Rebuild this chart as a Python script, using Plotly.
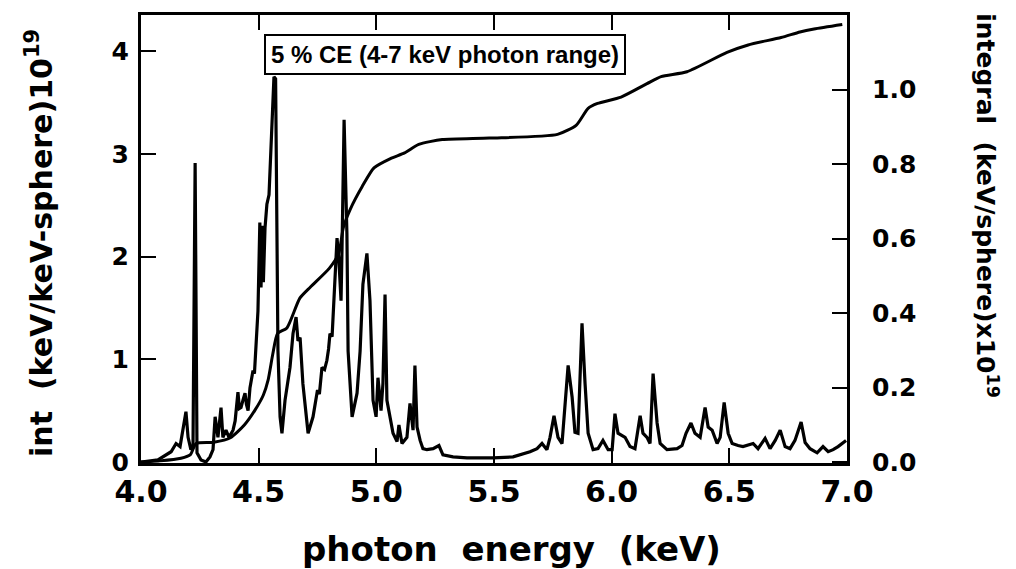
import plotly.graph_objects as go

# spectrum: photon energy (keV) vs intensity (keV/keV-sphere) x 1e19
energy = [4.000, 4.072, 4.128, 4.149, 4.166, 4.191, 4.200, 4.212, 4.221, 4.230, 4.238, 4.255, 4.276,
          4.293, 4.306, 4.315, 4.327, 4.340, 4.348, 4.361, 4.374, 4.391, 4.400, 4.412, 4.418, 4.425,
          4.433, 4.442, 4.448, 4.455, 4.463, 4.476, 4.482, 4.489, 4.497, 4.505, 4.510, 4.516, 4.520,
          4.527, 4.535, 4.544, 4.557, 4.565, 4.572, 4.578, 4.582, 4.591, 4.599, 4.612, 4.633, 4.646,
          4.659, 4.667, 4.676, 4.688, 4.705, 4.710, 4.731, 4.750, 4.758, 4.769, 4.780, 4.790, 4.797,
          4.803, 4.812, 4.820, 4.833, 4.841, 4.850, 4.854, 4.863, 4.875, 4.880, 4.897, 4.918, 4.931,
          4.943, 4.960, 4.973, 4.986, 4.999, 5.007, 5.020, 5.028, 5.037, 5.045, 5.058, 5.071, 5.088,
          5.096, 5.109, 5.130, 5.143, 5.156, 5.164, 5.173, 5.186, 5.198, 5.215, 5.241, 5.266, 5.283,
          5.326, 5.385, 5.441, 5.496, 5.581, 5.623, 5.653, 5.683, 5.704, 5.725, 5.738, 5.755, 5.772,
          5.789, 5.802, 5.815, 5.832, 5.844, 5.857, 5.874, 5.887, 5.900, 5.921, 5.942, 5.963, 5.985,
          6.002, 6.014, 6.027, 6.057, 6.078, 6.099, 6.121, 6.133, 6.150, 6.163, 6.176, 6.193, 6.206,
          6.235, 6.278, 6.299, 6.316, 6.337, 6.354, 6.376, 6.397, 6.410, 6.427, 6.448, 6.461, 6.478,
          6.495, 6.512, 6.537, 6.558, 6.601, 6.622, 6.652, 6.673, 6.695, 6.716, 6.737, 6.758, 6.779,
          6.805, 6.822, 6.843, 6.873, 6.898, 6.920, 6.941, 6.962, 6.983, 6.996]
intensity = [0.00, 0.02, 0.10, 0.18, 0.15, 0.49, 0.24, 0.12, 0.15, 2.91, 0.09, 0.02, 0.00,
             0.05, 0.12, 0.44, 0.24, 0.53, 0.24, 0.31, 0.24, 0.31, 0.40, 0.68, 0.52, 0.53,
             0.60, 0.67, 0.56, 0.50, 0.72, 0.89, 0.86, 1.12, 1.47, 2.33, 1.70, 2.30, 1.75,
             2.28, 2.51, 2.60, 3.44, 3.75, 3.73, 2.22, 1.08, 0.44, 0.28, 0.60, 0.92, 1.25,
             1.41, 1.18, 1.21, 0.76, 0.34, 0.28, 0.44, 0.70, 0.66, 0.92, 0.90, 0.99, 1.10,
             1.25, 1.22, 1.57, 2.18, 1.96, 1.57, 2.05, 3.33, 2.22, 1.08, 0.44, 0.67, 1.08,
             1.73, 2.03, 1.57, 0.60, 0.44, 0.82, 0.50, 0.76, 1.63, 0.60, 0.44, 0.28, 0.20,
             0.36, 0.18, 0.24, 0.57, 0.31, 0.94, 0.34, 0.21, 0.13, 0.12, 0.13, 0.16, 0.07,
             0.05, 0.04, 0.04, 0.04, 0.05, 0.08, 0.10, 0.13, 0.18, 0.12, 0.24, 0.45, 0.24,
             0.18, 0.60, 0.94, 0.63, 0.29, 0.28, 1.35, 0.76, 0.28, 0.12, 0.13, 0.21, 0.12,
             0.12, 0.47, 0.28, 0.24, 0.15, 0.13, 0.45, 0.28, 0.24, 0.18, 0.86, 0.38, 0.18,
             0.12, 0.13, 0.16, 0.28, 0.38, 0.28, 0.24, 0.53, 0.34, 0.31, 0.18, 0.24, 0.58,
             0.28, 0.18, 0.16, 0.15, 0.18, 0.13, 0.23, 0.13, 0.21, 0.31, 0.15, 0.13, 0.21,
             0.39, 0.19, 0.13, 0.09, 0.15, 0.10, 0.12, 0.15, 0.19, 0.21]

# cumulative integral (keV/sphere) x 1e19
int_energy = [4.00, 4.08, 4.17, 4.21, 4.234, 4.31, 4.38, 4.44, 4.485, 4.52, 4.54, 4.56, 4.58, 4.62,
              4.675, 4.72, 4.80, 4.84, 4.86, 4.89, 4.94, 4.99, 5.06, 5.12, 5.18, 5.28, 5.48, 5.77,
              5.85, 5.90, 5.94, 6.04, 6.15, 6.21, 6.32, 6.49, 6.58, 6.72, 6.80, 6.86, 6.98]
integral = [0.0, 0.003, 0.01, 0.02, 0.05, 0.053, 0.065, 0.10, 0.14, 0.18, 0.22, 0.29, 0.345, 0.36,
            0.44, 0.47, 0.52, 0.56, 0.63, 0.68, 0.74, 0.79, 0.815, 0.83, 0.853, 0.866, 0.87, 0.88,
            0.905, 0.95, 0.963, 0.98, 1.016, 1.035, 1.048, 1.10, 1.12, 1.14, 1.155, 1.163, 1.175]

x_ticks = [4.0, 4.5, 5.0, 5.5, 6.0, 6.5, 7.0]
x_ticktext = ["4.0", "4.5", "5.0", "5.5", "6.0", "6.5", "7.0"]
y_ticks = [0, 1, 2, 3, 4]
y2_ticks = [0.0, 0.2, 0.4, 0.6, 0.8, 1.0]
y2_ticktext = ["0.0", "0.2", "0.4", "0.6", "0.8", "1.0"]

FONT = "DejaVu Sans"

W, H = 1016, 569
L, R, T, B = 141, 169, 13, 106
pw, ph = W - L - R, H - T - B


def px_x(p):
    return (p - L) / pw


def px_y(p):
    return (H - B - p) / ph


fig = go.Figure()
fig.add_trace(go.Scatter(x=energy, y=intensity, mode="lines",
                         line=dict(color="black", width=3.2), showlegend=False))
fig.add_trace(go.Scatter(x=int_energy, y=integral, mode="lines", yaxis="y2",
                         line=dict(color="black", width=3, shape="spline", smoothing=0.6),
                         showlegend=False))

fig.update_layout(
    width=W, height=H,
    margin=dict(l=L, r=R, t=T, b=B),
    paper_bgcolor="white", plot_bgcolor="white",
    font=dict(family=FONT, color="black"),
    xaxis=dict(range=[4.0, 7.0], tickvals=x_ticks, ticktext=x_ticktext,
               ticks="inside", ticklen=15, tickwidth=2, tickcolor="black",
               showline=True, linewidth=3, linecolor="black", mirror="ticks",
               showgrid=False, zeroline=False,
               tickfont=dict(family=FONT, size=30, weight="bold"),
               ticklabelstandoff=0),
    yaxis=dict(range=[-0.0097, 4.351], tickvals=y_ticks,
               ticks="inside", ticklen=15, tickwidth=2, tickcolor="black",
               showline=True, linewidth=3, linecolor="black", mirror=True,
               showgrid=False, zeroline=False,
               tickfont=dict(family=FONT, size=25, weight="bold"),
               ticklabelstandoff=4),
    yaxis2=dict(range=[-0.0027, 1.2005], tickvals=y2_ticks, ticktext=y2_ticktext,
                overlaying="y", side="right",
                ticks="inside", ticklen=15, tickwidth=2, tickcolor="black",
                showline=False, showgrid=False, zeroline=False,
                tickfont=dict(family=FONT, size=25, weight="bold"),
                ticklabelstandoff=24),
    annotations=[
        dict(text="5 % CE (4-7 keV photon range)", x=5.29, y=px_y(52.5), xref="x", yref="paper",
             xanchor="center", yanchor="middle",
             showarrow=False, font=dict(family="Liberation Sans", size=24, weight="bold"),
             bordercolor="black", borderwidth=2, borderpad=5, bgcolor="white"),
        dict(text="photon  energy  (keV)", x=px_x(511), y=px_y(549), xref="paper", yref="paper",
             xanchor="center", yanchor="middle",
             showarrow=False, font=dict(family=FONT, size=34, weight="bold")),
        dict(text="int  (keV/keV-sphere)10<sup>19</sup>", x=px_x(40), y=px_y(242), textangle=-90,
             xref="paper", yref="paper", xanchor="center", yanchor="middle",
             showarrow=False, font=dict(family=FONT, size=30, weight="bold")),
        dict(text="integral  (keV/sphere)x10<sup>19</sup>", x=px_x(987), y=px_y(204), textangle=90,
             xref="paper", yref="paper", xanchor="center", yanchor="middle",
             showarrow=False, font=dict(family=FONT, size=25, weight="bold")),
    ],
)

fig.write_html("out.html")
